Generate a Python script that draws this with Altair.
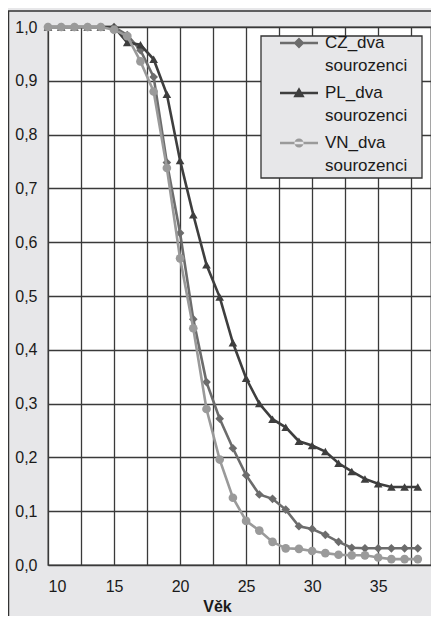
import altair as alt
import pandas as pd

ages = [10, 11, 12, 13, 14, 15, 16, 17, 18, 19, 20, 21, 22, 23, 24, 25, 26, 27,
        28, 29, 30, 31, 32, 33, 34, 35, 36, 37, 38]
cz = [1.0, 1.0, 1.0, 1.0, 1.0, 1.0, 0.985, 0.957, 0.907, 0.748, 0.617, 0.457,
      0.340, 0.272, 0.217, 0.167, 0.131, 0.123, 0.103, 0.072, 0.067, 0.056,
      0.043, 0.032, 0.031, 0.031, 0.031, 0.031, 0.031]
pl = [1.0, 1.0, 1.0, 1.0, 1.0, 1.0, 0.971, 0.967, 0.940, 0.875, 0.752, 0.651,
      0.558, 0.498, 0.413, 0.347, 0.300, 0.271, 0.256, 0.230, 0.222, 0.211,
      0.189, 0.174, 0.160, 0.151, 0.145, 0.145, 0.145]
vn = [1.0, 1.0, 1.0, 1.0, 1.0, 0.995, 0.983, 0.936, 0.880, 0.738, 0.570, 0.440,
      0.290, 0.196, 0.125, 0.082, 0.064, 0.043, 0.031, 0.030, 0.026, 0.022,
      0.019, 0.018, 0.018, 0.014, 0.011, 0.011, 0.011]

series_names = ["CZ_dva sourozenci", "PL_dva sourozenci", "VN_dva sourozenci"]
series_colors = ["#6c6c6c", "#3e3e3e", "#9a9a9a"]
series_shapes = ["diamond", "triangle-up", "circle"]
x_grid = [10, 12.5, 15, 17.5, 20, 22.5, 25, 27.5, 30, 32.5, 35, 37.5]
y_ticks = [0.0, 0.1, 0.2, 0.3, 0.4, 0.5, 0.6, 0.7, 0.8, 0.9, 1.0]

# legend symbols: a line segment with the series marker
LINE = "M-1,-0.066H1V0.066H-1Z "
legend_paths = [
    LINE + "M0,-0.29L0.29,0L0,0.29L-0.29,0Z",
    LINE + "M0,-0.3L0.3,0.22L-0.3,0.22Z",
    LINE + "M-0.24,0A0.24,0.24 0 1,0 0.24,0A0.24,0.24 0 1,0 -0.24,0Z",
]

rows = []
for name, vals in zip(series_names, [cz, pl, vn]):
    for a, v in zip(ages, vals):
        rows.append({"age": a, "value": v, "series": name})
df = pd.DataFrame(rows)

FONT = "Liberation Sans"
GRID = "#3a3a3a"
BG = "#e7e7e9"

x_enc = alt.X(
    "age:Q",
    scale=alt.Scale(domain=[10, 39], nice=False, zero=False),
    axis=alt.Axis(
        values=x_grid, title="Věk", grid=True, gridColor=GRID, gridWidth=1.3,
        ticks=False, domain=False, labelFont=FONT, labelFontSize=16,
        labelColor="#1a1a1a", labelPadding=13, labelBaseline="top",
        labelExpr="datum.value % 5 == 0 ? datum.label : ''",
        titleFont=FONT, titleFontSize=16, titleFontWeight="bold",
        titleColor="#1a1a1a", titleX=169, titleY=46, titleBaseline="alphabetic",
        titleAnchor="start", titleAlign="center",
    ),
)
y_enc = alt.Y(
    "value:Q",
    scale=alt.Scale(domain=[0, 1], nice=False),
    axis=alt.Axis(
        values=y_ticks, format=".1f", labelExpr="replace(datum.label, '.', ',')",
        title=None, grid=True, gridColor=GRID, gridWidth=1.3, ticks=False,
        domain=False, labelFont=FONT, labelFontSize=16, labelColor="#1a1a1a",
        labelPadding=11,
    ),
)

base = alt.Chart(df)
layers = []

frame = alt.Chart(alt.Data(values=[{"k": 0}])).mark_rect(
    fillOpacity=0, stroke="#333333", strokeWidth=1.5
).encode(x=alt.value(-39.5), x2=alt.value(430), y=alt.value(-16), y2=alt.value(640))
layers.append(frame)

legend_box = alt.Chart(alt.Data(values=[{"k": 0}])).mark_rect(
    fill=BG, stroke="#333333", strokeWidth=1.3
).encode(x=alt.value(213), x2=alt.value(374), y=alt.value(9), y2=alt.value(151))
layers.append(legend_box)

for name, col, shp in zip(series_names, series_colors, series_shapes):
    sub = base.transform_filter(alt.datum.series == name)
    layers.append(sub.mark_line(strokeWidth=2.6, color=col).encode(x=x_enc, y=y_enc))
    layers.append(sub.mark_point(filled=True, size=75, opacity=1, color=col, shape=shp)
                  .encode(x=x_enc, y=y_enc))

leg = alt.Legend(
    title=None, orient="none", legendX=232, legendY=-3, padding=0,
    symbolSize=1444, symbolOffset=0, labelOffset=7, symbolStrokeWidth=0,
    symbolOpacity=1, labelFont=FONT, labelFontSize=17, labelColor="#1a1a1a",
    labelExpr="split(datum.label, ' ')", labelBaseline="middle",
    rowPadding=-3, labelLimit=200,
)
legend_layer = base.transform_filter("false").mark_point(
    filled=True, size=1444, opacity=1, strokeWidth=0
).encode(
    x=x_enc, y=y_enc,
    color=alt.Color("series:N", scale=alt.Scale(domain=series_names, range=series_colors), legend=leg),
    shape=alt.Shape("series:N", scale=alt.Scale(domain=series_names, range=legend_paths), legend=leg),
)
layers.append(legend_layer)

chart = alt.layer(*layers).properties(
    width=383, height=538,
    autosize=alt.AutoSizeParams(type="none"),
    padding={"left": 40, "top": 19, "right": 0, "bottom": 51},
    background=BG,
).configure(
    style={"guide-label": {"lineHeight": 23}}
).configure_view(fill="white", stroke=GRID, strokeWidth=1.3)

chart.save("out.html", embed_options={"renderer": "svg", "actions": False})
